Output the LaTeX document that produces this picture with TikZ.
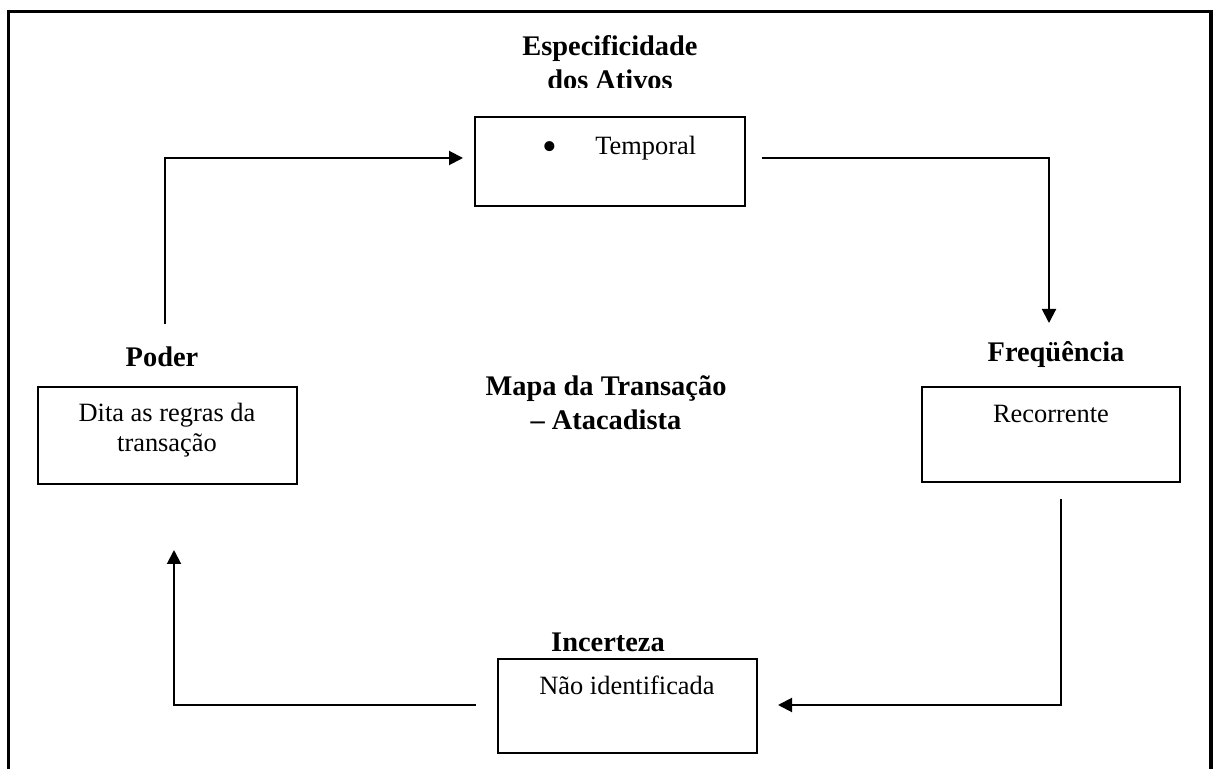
\documentclass[tikz,border=0pt]{standalone}
\usepackage{fontspec}
\setmainfont{Liberation Serif}
\usetikzlibrary{arrows.meta}
\begin{document}
\begin{tikzpicture}[x=0.5pt,y=-0.5pt,
  caixa/.style={draw,line width=1pt,inner sep=0pt},
  titulo/.style={font=\fontsize{14.2}{17}\selectfont\bfseries,align=center},
  texto/.style={font=\fontsize{13.2}{15}\selectfont,align=center},
  seta/.style={line width=1pt,-{Triangle[length=7pt,width=7pt]}}]
\useasboundingbox (0,0) rectangle (1215,769);
\clip (0,0) rectangle (1215,769);
\draw[line width=1.8pt] (8.5,790) -- (8.5,11.5) -- (1211,11.5) -- (1211,790);
\node[caixa,minimum width=135pt,minimum height=44.5pt] (ativos) at (610,161.5) {};
\node[caixa,minimum width=129.5pt,minimum height=48.5pt] (poder) at (167.5,435.5) {};
\node[caixa,minimum width=129pt,minimum height=47.5pt] (freq) at (1051,434.5) {};
\node[caixa,minimum width=129.5pt,minimum height=47pt] (incerteza) at (627.5,706) {};
\node[titulo,anchor=base] (tEsp) at (610,56) {Especificidade};
\begin{scope}
\clip (0,0) rectangle (1215,88);
\node[titulo,anchor=base] (tAtivos) at (610,90) {dos Ativos};
\end{scope}
\node[texto,anchor=base,font=\fontsize{21}{21}\selectfont] (bala) at (550,161) {\textbullet};
\node[texto,anchor=base west,inner sep=0pt] (temporal) at (595,155) {Temporal};
\node[titulo,anchor=base] (tPoder) at (162,367) {Poder};
\node[texto] (dita) at (167,430) {Dita as regras da\\transação};
\node[titulo] (mapa) at (606,403) {Mapa da Transação\\– Atacadista};
\node[titulo,anchor=base] (tFreq) at (1056,362) {Freqüência};
\node[texto,anchor=base] (recorrente) at (1051,423) {Recorrente};
\node[titulo,anchor=base] (tIncerteza) at (608,651) {Incerteza};
\node[texto,anchor=base] (naoid) at (627,694) {Não identificada};
\coordinate (a1) at (165,324); \coordinate (a2) at (463,158);
\coordinate (b1) at (762,158); \coordinate (b2) at (1049,323);
\coordinate (c1) at (1061,499); \coordinate (c2) at (778,705);
\coordinate (d1) at (476,705); \coordinate (d2) at (174,550);
\draw[seta] (a1) |- (a2);
\draw[seta] (b1) -| (b2);
\draw[seta] (c1) |- (c2);
\draw[seta] (d1) -| (d2);
\end{tikzpicture}
\end{document}
